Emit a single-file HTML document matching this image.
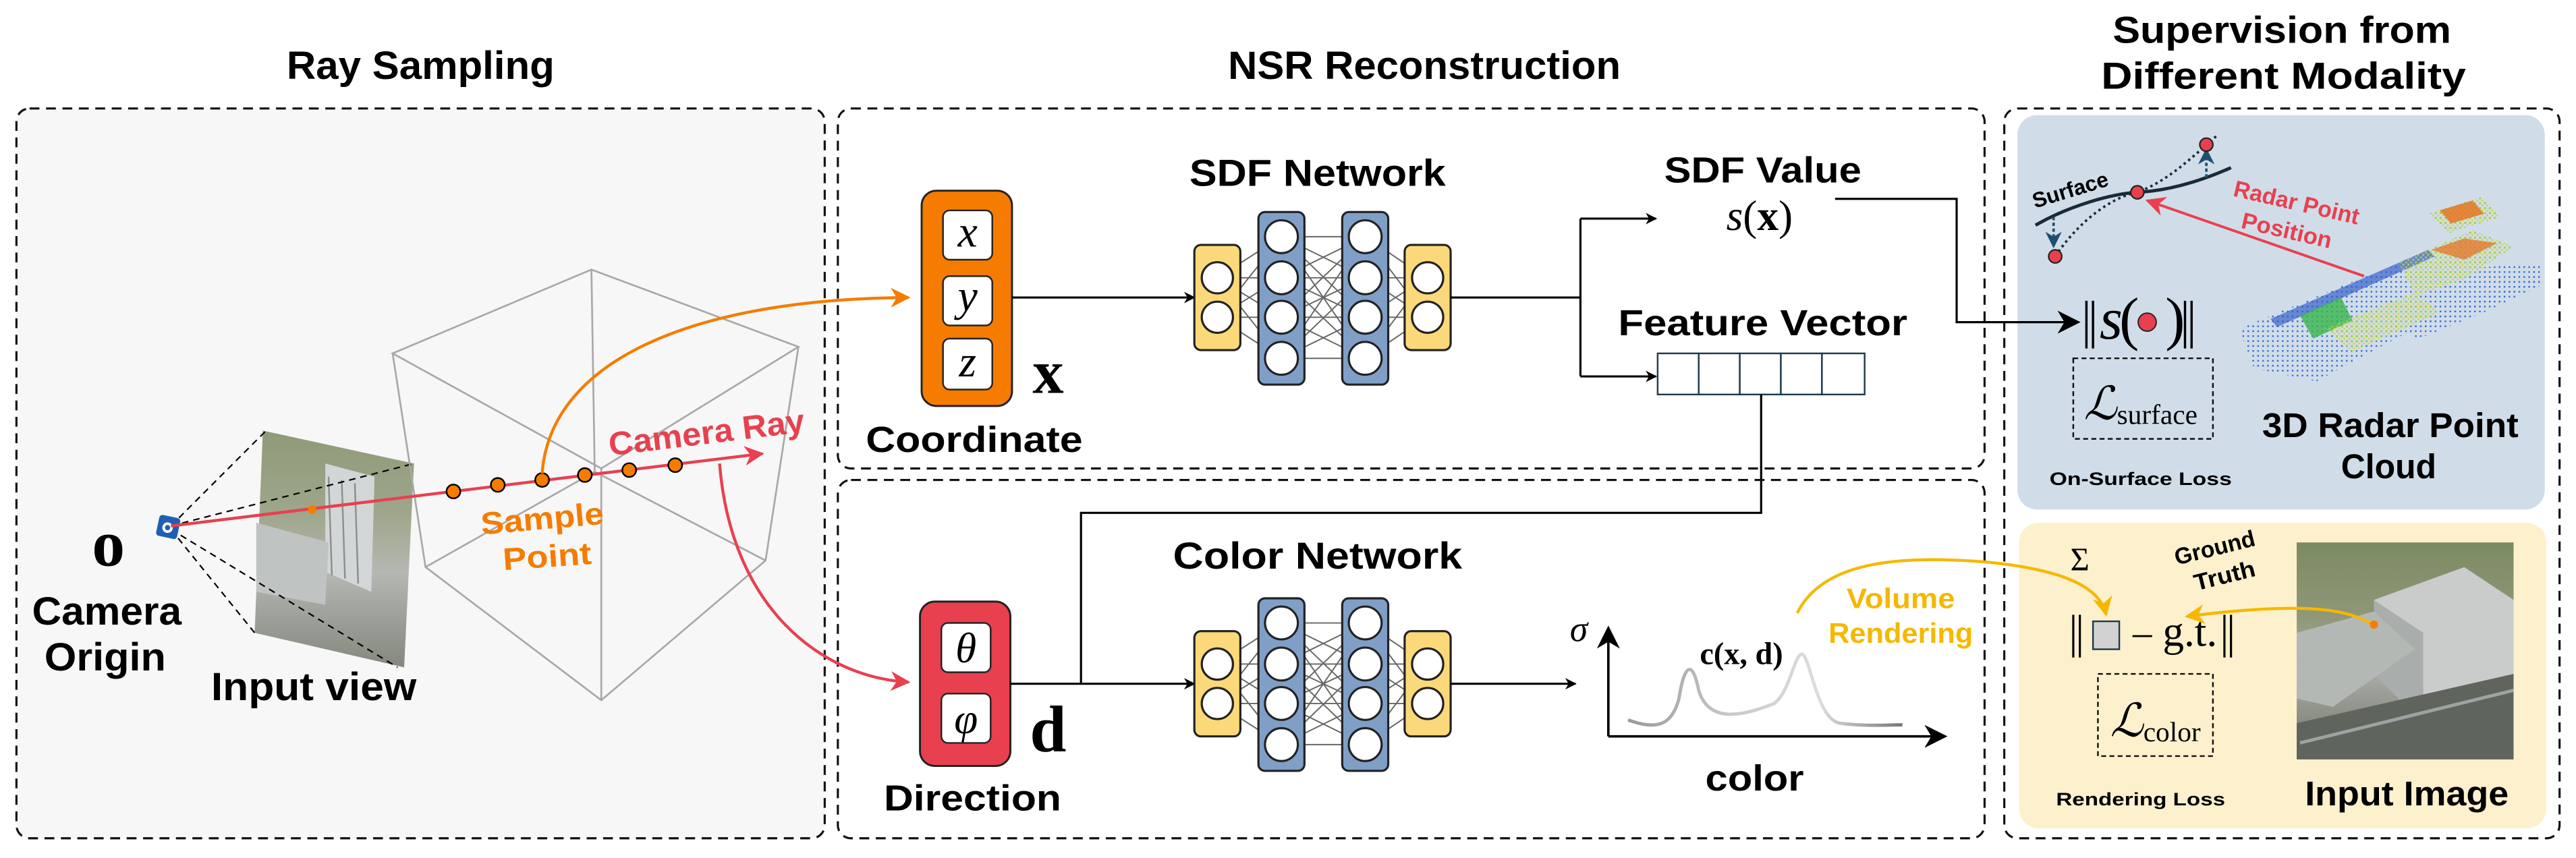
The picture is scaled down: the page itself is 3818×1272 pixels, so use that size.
<!DOCTYPE html>
<html><head><meta charset="utf-8"><style>html,body{margin:0;padding:0;background:#fff}svg{display:block}</style></head>
<body>
<svg width="3818" height="1272" viewBox="0 0 1568 522" preserveAspectRatio="none" xmlns="http://www.w3.org/2000/svg" font-family="'Liberation Sans', sans-serif">
<defs>
<marker id="ab" viewBox="0 0 10 10" refX="9" refY="5" markerWidth="7" markerHeight="7" orient="auto" markerUnits="userSpaceOnUse"><path d="M0,0 L10,5 L0,10 L3,5 z" fill="#000"/></marker>
<marker id="abL" viewBox="0 0 10 10" refX="9" refY="5" markerWidth="14" markerHeight="14" orient="auto" markerUnits="userSpaceOnUse"><path d="M0,0 L10,5 L0,10 L3,5 z" fill="#000"/></marker>
<marker id="ao" viewBox="0 0 10 10" refX="9" refY="5" markerWidth="12" markerHeight="12" orient="auto" markerUnits="userSpaceOnUse"><path d="M0,0 L10,5 L0,10 L3,5 z" fill="#f57c00"/></marker>
<marker id="ar" viewBox="0 0 10 10" refX="9" refY="5" markerWidth="12" markerHeight="12" orient="auto" markerUnits="userSpaceOnUse"><path d="M0,0 L10,5 L0,10 L3,5 z" fill="#e8404f"/></marker>
<marker id="ay" viewBox="0 0 10 10" refX="9" refY="5" markerWidth="12" markerHeight="12" orient="auto" markerUnits="userSpaceOnUse"><path d="M0,0 L10,5 L0,10 L3,5 z" fill="#f5b800"/></marker>
<marker id="ad" viewBox="0 0 10 10" refX="9" refY="5" markerWidth="10" markerHeight="10" orient="auto" markerUnits="userSpaceOnUse"><path d="M0,0 L10,5 L0,10 L3,5 z" fill="#1f4f6e"/></marker>
<linearGradient id="ph" x1="0" y1="0" x2="0" y2="1"><stop offset="0" stop-color="#7c8a62"/><stop offset="0.35" stop-color="#8f9878"/><stop offset="0.6" stop-color="#a9aca6"/><stop offset="1" stop-color="#6f7468"/></linearGradient>
<linearGradient id="cg" x1="0" y1="0" x2="1" y2="0"><stop offset="0" stop-color="#999"/><stop offset="0.4" stop-color="#ccc"/><stop offset="0.7" stop-color="#ddd"/><stop offset="1" stop-color="#777"/></linearGradient>
<pattern id="dots" width="3" height="3" patternUnits="userSpaceOnUse"><rect width="1" height="1" fill="#2a5fd0"/></pattern>
<pattern id="dotsg" width="3" height="3" patternUnits="userSpaceOnUse"><rect width="1.2" height="1.2" fill="#9fd020"/><rect x="1.5" y="1.5" width="1" height="1" fill="#d8d020"/></pattern>
<g id="net">
<g stroke="#666" stroke-width="0.8">
<path d="M741,169L780,144M741,169L780,169M741,169L780,193M741,169L780,218M741,193L780,144M741,193L780,169M741,193L780,193M741,193L780,218"/>
<path d="M780,144L831,144M780,144L831,169M780,144L831,193M780,144L831,218M780,169L831,144M780,169L831,169M780,169L831,193M780,169L831,218M780,193L831,144M780,193L831,169M780,193L831,193M780,193L831,218M780,218L831,144M780,218L831,169M780,218L831,193M780,218L831,218"/>
<path d="M868,169L831,144M868,169L831,169M868,169L831,193M868,169L831,218M868,193L831,144M868,193L831,169M868,193L831,193M868,193L831,218"/>
</g>
<g stroke="#222" stroke-width="1.3">
<rect x="727" y="149" width="28" height="64" rx="4" fill="#fbd97a"/>
<rect x="766" y="129" width="28" height="105" rx="4" fill="#7f9fc7"/>
<rect x="817" y="129" width="28" height="105" rx="4" fill="#7f9fc7"/>
<rect x="855" y="149" width="28" height="64" rx="4" fill="#fbd97a"/>
<g fill="#fff">
<circle cx="741" cy="169" r="9.5"/><circle cx="741" cy="193" r="9.5"/>
<circle cx="780" cy="144" r="10"/><circle cx="780" cy="169" r="10"/><circle cx="780" cy="193" r="10"/><circle cx="780" cy="218" r="10"/>
<circle cx="831" cy="144" r="10"/><circle cx="831" cy="169" r="10"/><circle cx="831" cy="193" r="10"/><circle cx="831" cy="218" r="10"/>
<circle cx="869" cy="169" r="9.5"/><circle cx="869" cy="193" r="9.5"/>
</g></g>
</g>
</defs>

<g font-weight="bold" fill="#000">
<text x="256" y="48" font-size="24" text-anchor="middle" textLength="163" lengthAdjust="spacingAndGlyphs">Ray Sampling</text>
<text x="867" y="48" font-size="24" text-anchor="middle" textLength="239" lengthAdjust="spacingAndGlyphs">NSR Reconstruction</text>
<text x="1389" y="26" font-size="23" text-anchor="middle" textLength="206" lengthAdjust="spacingAndGlyphs">Supervision from</text>
<text x="1390" y="54" font-size="23" text-anchor="middle" textLength="222" lengthAdjust="spacingAndGlyphs">Different Modality</text>
</g>

<g fill="none" stroke="#111" stroke-width="1.3" stroke-dasharray="6,4">
<rect x="10" y="66" width="492" height="444" rx="8" fill="#f7f7f7"/>
<rect x="510" y="66" width="698" height="219" rx="8"/>
<rect x="510" y="292" width="698" height="218" rx="8"/>
<rect x="1220" y="66" width="338" height="444" rx="8"/>
</g>
<rect x="1228" y="70" width="321" height="240" rx="12" fill="#d0dde9"/>
<rect x="1229" y="318" width="321" height="186" rx="12" fill="#fdf1cd"/>

<text x="66" y="344" font-size="40" font-weight="bold" font-family="'Liberation Serif', serif" text-anchor="middle">o</text>
<g font-weight="bold" font-size="24" text-anchor="middle">
<text x="65" y="380" textLength="91" lengthAdjust="spacingAndGlyphs">Camera</text>
<text x="64" y="408" textLength="74" lengthAdjust="spacingAndGlyphs">Origin</text>
<text x="191" y="426" textLength="125" lengthAdjust="spacingAndGlyphs">Input view</text>
</g>
<polygon points="160,262 252,282 246,406 155,385" fill="url(#ph)" opacity="0.85"/>
<polygon points="198,282 228,290 226,360 198,348" fill="#d3d6d6"/>
<polygon points="156,318 200,330 198,368 156,360" fill="#bfc3c2"/>
<path d="M200,290 L202,350 M208,292 L210,352 M216,294 L218,355" stroke="#8a8f90" stroke-width="1"/>
<g stroke="#000" stroke-width="0.9" stroke-dasharray="4,3" fill="none">
<path d="M104,320 L162,262 M104,320 L252,282 M104,322 L155,385 M104,322 L242,406"/>
</g>
<rect x="96" y="314" width="13" height="13" rx="2" fill="#1e5fb4" transform="rotate(12 102 320)"/>
<circle cx="102" cy="321" r="3.2" fill="#fff"/><circle cx="102" cy="321" r="1.6" fill="#1e5fb4"/>
<g stroke="#a8a8a8" stroke-width="1.1" fill="none">
<path d="M239,215 L360,164 L486,211 L366,285 Z"/>
<path d="M239,215 L259,345 L366,426 L466,341 L486,211"/>
<path d="M366,285 L366,426"/>
<path d="M360,164 L362,287 M259,345 L362,287 L466,341"/>
</g>
<line x1="104" y1="320" x2="464" y2="276" stroke="#e8404f" stroke-width="1.8" marker-end="url(#ar)"/>
<circle cx="190" cy="310" r="2.6" fill="#f57c00"/>
<g fill="#f57c00" stroke="#000" stroke-width="1">
<circle cx="276" cy="299" r="4.2"/><circle cx="303" cy="295" r="4.2"/><circle cx="330" cy="292" r="4.2"/><circle cx="356" cy="289" r="4.2"/><circle cx="383" cy="286" r="4.2"/><circle cx="411" cy="283" r="4.2"/>
</g>
<text x="430" y="270" font-size="20" font-weight="bold" fill="#e8404f" text-anchor="middle" transform="rotate(-7 430 263)" textLength="120" lengthAdjust="spacingAndGlyphs">Camera Ray</text>
<g font-size="19" font-weight="bold" fill="#f57c00" text-anchor="middle">
<text x="330" y="322" transform="rotate(-5 330 315)" textLength="75" lengthAdjust="spacingAndGlyphs">Sample</text>
<text x="333" y="345" transform="rotate(-4 333 338)" textLength="54" lengthAdjust="spacingAndGlyphs">Point</text>
</g>
<path d="M330,288 C335,220 420,182 553,181" fill="none" stroke="#f57c00" stroke-width="1.8" marker-end="url(#ao)"/>
<path d="M438,282 C445,370 500,412 553,415" fill="none" stroke="#e8404f" stroke-width="1.8" marker-end="url(#ar)"/>

<rect x="561" y="116" width="55" height="131" rx="9" fill="#f57c00" stroke="#222" stroke-width="1.2"/>
<g fill="#fff" stroke="#222" stroke-width="1"><rect x="574" y="128" width="30" height="30" rx="4"/><rect x="574" y="168" width="30" height="30" rx="4"/><rect x="574" y="206" width="30" height="31" rx="4"/></g>
<g font-family="'Liberation Serif', serif" font-style="italic" font-size="27" text-anchor="middle">
<text x="589" y="150">x</text><text x="589" y="189">y</text><text x="589" y="229">z</text>
</g>
<text x="638" y="239" font-family="'Liberation Serif', serif" font-weight="bold" font-size="38" text-anchor="middle">x</text>
<text x="593" y="275" font-size="22" font-weight="bold" text-anchor="middle" textLength="132" lengthAdjust="spacingAndGlyphs">Coordinate</text>
<line x1="616" y1="181" x2="727" y2="181" stroke="#000" stroke-width="1.3" marker-end="url(#ab)"/>
<text x="802" y="113" font-size="23" font-weight="bold" text-anchor="middle" textLength="156" lengthAdjust="spacingAndGlyphs">SDF Network</text>
<use href="#net"/>
<path d="M883,181 L962,181 M962,133 L962,229" stroke="#000" stroke-width="1.3" fill="none"/>
<line x1="962" y1="133" x2="1008" y2="133" stroke="#000" stroke-width="1.3" marker-end="url(#ab)"/>
<line x1="962" y1="229" x2="1008" y2="229" stroke="#000" stroke-width="1.3" marker-end="url(#ab)"/>
<text x="1073" y="111" font-size="22" font-weight="bold" text-anchor="middle" textLength="120" lengthAdjust="spacingAndGlyphs">SDF Value</text>
<text x="1071" y="140" font-size="26" font-family="'Liberation Serif', serif" text-anchor="middle"><tspan font-style="italic">s</tspan>(<tspan font-weight="bold">x</tspan>)</text>
<text x="1073" y="204" font-size="22" font-weight="bold" text-anchor="middle" textLength="176" lengthAdjust="spacingAndGlyphs">Feature Vector</text>
<g fill="#fff" stroke="#1f3a4d" stroke-width="1"><rect x="1009" y="215" width="25" height="25"/><rect x="1034" y="215" width="25" height="25"/><rect x="1059" y="215" width="25" height="25"/><rect x="1084" y="215" width="25" height="25"/><rect x="1109" y="215" width="26" height="25"/></g>
<path d="M1117,121 L1191,121 L1191,196 L1265,196" fill="none" stroke="#000" stroke-width="1.3" marker-end="url(#abL)"/>
<path d="M1072,240 L1072,312 L658,312 L658,416" fill="none" stroke="#000" stroke-width="1.3"/>

<rect x="560" y="366" width="55" height="100" rx="9" fill="#e8404f" stroke="#222" stroke-width="1.2"/>
<g fill="#fff" stroke="#222" stroke-width="1"><rect x="573" y="379" width="30" height="30" rx="4"/><rect x="573" y="422" width="30" height="30" rx="4"/></g>
<g font-family="'Liberation Serif', serif" font-style="italic" font-size="26" text-anchor="middle"><text x="588" y="403">θ</text><text x="588" y="446">φ</text></g>
<text x="638" y="457" font-family="'Liberation Serif', serif" font-weight="bold" font-size="40" text-anchor="middle">d</text>
<text x="592" y="493" font-size="22" font-weight="bold" text-anchor="middle" textLength="108" lengthAdjust="spacingAndGlyphs">Direction</text>
<line x1="615" y1="416" x2="727" y2="416" stroke="#000" stroke-width="1.3" marker-end="url(#ab)"/>
<text x="802" y="346" font-size="23" font-weight="bold" text-anchor="middle" textLength="176" lengthAdjust="spacingAndGlyphs">Color Network</text>
<use href="#net" transform="translate(0,235)"/>
<line x1="883" y1="416" x2="959" y2="416" stroke="#000" stroke-width="1.3" marker-end="url(#ab)"/>
<text x="961" y="390" font-size="22" font-family="'Liberation Serif', serif" font-style="italic" text-anchor="middle">σ</text>
<path d="M979,448 L979,382" stroke="#000" stroke-width="1.5" marker-end="url(#abL)"/>
<path d="M979,448 L1184,448" stroke="#000" stroke-width="1.5" marker-end="url(#abL)"/>
<path d="M991,438 C1010,445 1018,440 1022,425 C1025,405 1030,400 1034,420 C1040,440 1060,436 1080,428 C1090,420 1092,398 1097,398 C1102,400 1106,438 1120,440 C1135,442 1150,441 1158,441" fill="none" stroke="url(#cg)" stroke-width="2"/>
<text x="1060" y="404" font-size="19" font-weight="bold" font-family="'Liberation Serif', serif" text-anchor="middle">c(x, d)</text>
<text x="1068" y="481" font-size="22" font-weight="bold" text-anchor="middle" textLength="60" lengthAdjust="spacingAndGlyphs">color</text>
<g font-size="17" font-weight="bold" fill="#f5b800" text-anchor="middle">
<text x="1157" y="370" textLength="66" lengthAdjust="spacingAndGlyphs">Volume</text>
<text x="1157" y="391" textLength="88" lengthAdjust="spacingAndGlyphs">Rendering</text>
</g>
<path d="M1094,373 C1110,340 1160,338 1210,342 C1250,346 1278,355 1282,374" fill="none" stroke="#f5b800" stroke-width="1.8" marker-end="url(#ay)"/>

<path d="M1239,137 C1260,125 1285,118 1301,117 C1320,116 1340,110 1358,102" fill="none" stroke="#1a2b38" stroke-width="2"/>
<path d="M1251,156 C1265,135 1285,120 1301,117 C1320,110 1335,95 1350,82" fill="none" stroke="#1a2b38" stroke-width="1.5" stroke-dasharray="1.5,2"/>
<line x1="1250" y1="132" x2="1250" y2="150" stroke="#1f4f6e" stroke-width="1.5" stroke-dasharray="2,1.5" marker-end="url(#ad)"/>
<line x1="1343" y1="108" x2="1343" y2="91" stroke="#1f4f6e" stroke-width="1.5" stroke-dasharray="2,1.5" marker-end="url(#ad)"/>
<g fill="#e8404f" stroke="#222" stroke-width="0.9"><circle cx="1301" cy="117" r="4"/><circle cx="1251" cy="156" r="4"/><circle cx="1343" cy="88" r="4"/></g>
<text x="1260" y="120" font-size="13" font-weight="bold" text-anchor="middle" transform="rotate(-17 1260 115)">Surface</text>
<line x1="1439" y1="168" x2="1307" y2="122" stroke="#e8404f" stroke-width="1.6" marker-end="url(#ar)"/>
<g font-size="14" font-weight="bold" fill="#e8404f" text-anchor="middle">
<text x="1398" y="128" transform="rotate(13 1398 123)" textLength="78" lengthAdjust="spacingAndGlyphs">Radar Point</text>
<text x="1392" y="145" transform="rotate(13 1392 140)" textLength="56" lengthAdjust="spacingAndGlyphs">Position</text>
</g>
<!-- point cloud -->
<g opacity="0.9">
<polygon points="1363,200 1440,168 1546,160 1546,172 1460,205 1410,232 1372,224" fill="url(#dots)"/>
<polygon points="1378,196 1480,152 1484,157 1384,201" fill="url(#dots)" opacity="1"/>
<polygon points="1382,194 1478,152 1482,156 1386,199" fill="#2a55c8" opacity="0.7"/>
<polygon points="1400,192 1425,181 1432,195 1408,206" fill="#27b23a" opacity="0.8"/>
<polygon points="1415,200 1470,178 1485,190 1432,214" fill="url(#dotsg)"/>
<polygon points="1460,160 1505,140 1530,150 1500,170 1470,180" fill="url(#dotsg)"/>
<polygon points="1478,130 1510,120 1522,132 1490,142" fill="url(#dotsg)"/>
<polygon points="1485,128 1505,122 1512,130 1492,136" fill="#e86a10" opacity="0.85"/>
<polygon points="1480,152 1500,145 1520,148 1500,158" fill="#e86a10" opacity="0.75"/>
<polygon points="1465,200 1510,183 1546,168 1546,174 1512,190 1470,207" fill="url(#dots)"/>
</g>
<!-- ||s(●)|| -->
<g font-family="'Liberation Serif', serif" font-size="36">
<path d="M1270,183 L1270,212 M1274,183 L1274,212 M1330,183 L1330,212 M1334,183 L1334,212" stroke="#000" stroke-width="1.4"/>
<text x="1278" y="206" font-style="italic">s</text>
<text x="1290" y="206">(</text>
<text x="1318" y="206">)</text>
</g>
<circle cx="1307" cy="196" r="5.5" fill="#e8404f" stroke="#222" stroke-width="0.8"/>
<rect x="1262" y="218" width="85" height="49" fill="none" stroke="#111" stroke-width="1" stroke-dasharray="3,2"/>
<text x="1303" y="255" font-family="'Liberation Serif', serif" font-size="28" text-anchor="middle"><tspan font-style="italic">ℒ</tspan><tspan font-size="17" dy="3">surface</tspan></text>
<text x="1303" y="295" font-size="11" font-weight="bold" text-anchor="middle" textLength="111" lengthAdjust="spacingAndGlyphs">On-Surface  Loss</text>
<g font-size="21" font-weight="bold" text-anchor="middle">
<text x="1455" y="266" textLength="156" lengthAdjust="spacingAndGlyphs">3D Radar Point</text>
<text x="1454" y="291" textLength="58" lengthAdjust="spacingAndGlyphs">Cloud</text>
</g>

<text x="1266" y="347" font-size="20" font-family="'Liberation Serif', serif" text-anchor="middle">Σ</text>
<path d="M1262,374 L1262,400 M1266,374 L1266,400 M1354,374 L1354,400 M1358,374 L1358,400" stroke="#000" stroke-width="1.3"/>
<rect x="1274" y="378" width="16" height="17" fill="#d2d2d2" stroke="#1f3a4d" stroke-width="1"/>
<line x1="1298" y1="387" x2="1310" y2="387" stroke="#000" stroke-width="1.2"/>
<text x="1333" y="393" font-size="26" font-family="'Liberation Serif', serif" text-anchor="middle">g.t.</text>
<rect x="1277" y="410" width="70" height="50" fill="none" stroke="#111" stroke-width="1" stroke-dasharray="3,2"/>
<text x="1312" y="448" font-family="'Liberation Serif', serif" font-size="28" text-anchor="middle"><tspan font-style="italic">ℒ</tspan><tspan font-size="17" dy="3">color</tspan></text>
<text x="1303" y="490" font-size="11" font-weight="bold" text-anchor="middle" textLength="103" lengthAdjust="spacingAndGlyphs">Rendering  Loss</text>
<g font-size="14" font-weight="bold" text-anchor="middle">
<text x="1348" y="338" transform="rotate(-14 1348 333)" textLength="50" lengthAdjust="spacingAndGlyphs">Ground</text>
<text x="1354" y="355" transform="rotate(-14 1354 350)" textLength="38" lengthAdjust="spacingAndGlyphs">Truth</text>
</g>
<rect x="1398" y="330" width="132" height="132" fill="url(#ph)"/>
<polygon points="1445,365 1500,345 1530,365 1530,410 1475,440 1445,410" fill="#c9cccb"/>
<polygon points="1445,365 1475,385 1475,440 1445,410" fill="#a9adab"/>
<polygon points="1398,385 1445,372 1470,395 1420,430 1398,425" fill="#b4b8b5"/>
<polygon points="1398,440 1530,410 1530,462 1398,462" fill="#5f655d"/>
<path d="M1400,452 L1530,420" stroke="#9ea2a0" stroke-width="2"/>
<path d="M1445,380 C1430,372 1410,365 1331,375" fill="none" stroke="#f5b800" stroke-width="1.8" marker-end="url(#ay)"/>
<circle cx="1445" cy="380" r="2.5" fill="#f57c00"/>
<text x="1465" y="490" font-size="21" font-weight="bold" text-anchor="middle" textLength="124" lengthAdjust="spacingAndGlyphs">Input Image</text>
</svg>
</body></html>
